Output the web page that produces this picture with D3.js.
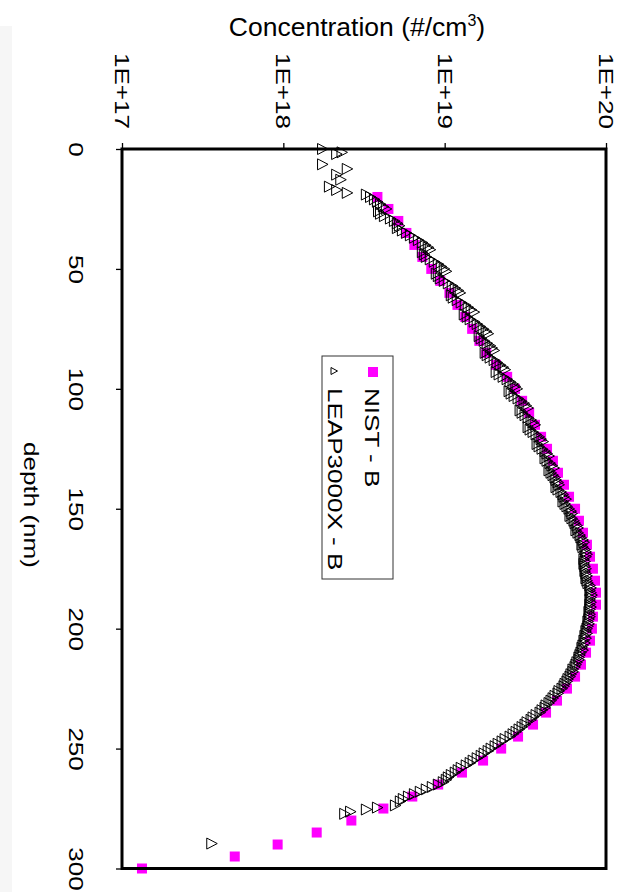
<!DOCTYPE html>
<html>
<head>
<meta charset="utf-8">
<script src="https://cdn.jsdelivr.net/npm/d3@7"></script>
<style>
  html, body { margin: 0; padding: 0; background: #fff; }
  svg { display: block; font-family: "Liberation Sans", Arial, sans-serif; }
</style>
</head>
<body>
<svg id="chart" width="629" height="892"></svg>
<script>
// Boron depth profile: NIST SIMS reference vs. LEAP3000X atom probe
const concTicks = [1e17, 1e18, 1e19, 1e20];
const concTickLabels = ["1E+17", "1E+18", "1E+19", "1E+20"];
const depthTicks = [0, 50, 100, 150, 200, 250, 300];
const seriesNames = ["NIST - B", "LEAP3000X - B"];

// NIST - B (depth nm, concentration #/cm3)
const nistDepth = [20, 25, 30, 35, 40, 45, 50, 55, 60, 65, 70, 75, 80, 85, 90, 95, 100,
  105, 110, 115, 120, 125, 130, 135, 140, 145, 150, 155, 160, 165, 170, 175, 180, 185,
  190, 195, 200, 205, 210, 215, 220, 225, 230, 235, 240, 245, 250, 255, 260, 265, 270,
  275, 280, 285, 290, 295, 300];
const nistConc = [3.83e18, 4.48e18, 5.16e18, 5.79e18, 6.49e18, 7.27e18, 8.26e18, 9.39e18,
  1.07e19, 1.20e19, 1.34e19, 1.48e19, 1.64e19, 1.81e19, 2.08e19, 2.44e19, 2.73e19,
  3.02e19, 3.34e19, 3.63e19, 3.96e19, 4.31e19, 4.69e19, 5.04e19, 5.49e19, 5.90e19,
  6.43e19, 6.80e19, 7.20e19, 7.62e19, 7.96e19, 8.30e19, 8.55e19, 8.67e19, 8.67e19,
  8.30e19, 8.18e19, 7.96e19, 7.52e19, 7.00e19, 6.43e19, 5.73e19, 4.97e19, 4.25e19,
  3.53e19, 2.85e19, 2.24e19, 1.73e19, 1.28e19, 9.12e18, 6.30e18, 4.17e18, 2.64e18,
  1.61e18, 9.22e17, 5.00e17, 1.33e17];

// LEAP3000X - B (depth nm, concentration #/cm3)
const leapDepth = [0.0, 1.4, 2.1, 6.4, 8.3, 10.7, 12.8, 15.7, 17.1, 18.3,
  19, 20, 21, 22, 23, 24, 25, 26, 27, 28, 29, 30, 31, 32, 33, 34, 35, 36, 37, 38,
  39, 40, 41, 42, 43, 44, 45, 46, 47, 48, 49, 50, 51, 52, 53, 54, 55, 56, 57, 58,
  59, 60, 61, 62, 63, 64, 65, 66, 67, 68, 69, 70, 71, 72, 73, 74, 75, 76, 77, 78,
  79, 80, 81, 82, 83, 84, 85, 86, 87, 88, 89, 90, 91, 92, 93, 94, 95, 96, 97, 98,
  99, 100, 101, 102, 103, 104, 105, 106, 107, 108, 109, 110, 111, 112, 113, 114, 115, 116, 117, 118,
  119, 120, 121, 122, 123, 124, 125, 126, 127, 128, 129, 130, 131, 132, 133, 134, 135, 136, 137, 138,
  139, 140, 141, 142, 143, 144, 145, 146, 147, 148, 149, 150, 151, 152, 153, 154, 155, 156, 157, 158,
  159, 160, 161, 162, 163, 164, 165, 166, 167, 168, 169, 170, 171, 172, 173, 174, 175, 176, 177, 178,
  179, 180, 181, 182, 183, 184, 185, 186, 187, 188, 189, 190, 191, 192, 193, 194, 195, 196, 197, 198,
  199, 200, 201, 202, 203, 204, 205, 206, 207, 208, 209, 210, 211, 212, 213, 214, 215, 216, 217, 218,
  219, 220, 221, 222, 223, 224, 225, 226, 227, 228, 229, 230, 231, 232, 233, 234, 235, 236, 237, 238,
  239, 240, 241, 242, 243, 244, 245, 246, 247, 248, 249, 250, 251, 252, 253, 254, 255, 256, 257, 258,
  259, 260, 261, 262, 263, 264, 265, 266, 267, 268, 269, 270, 271, 272,
  273.7, 274.6, 275.4, 276.3, 277.2, 289.6];
const leapConc = [1.75e18, 2.31e18, 2.14e18, 1.75e18, 2.49e18, 2.14e18, 2.27e18, 1.93e18, 2.14e18, 2.49e18,
  3.27e18, 3.47e18, 3.67e18, 3.83e18, 4.00e18, 4.17e18, 4.35e18, 3.89e18, 4.00e18, 4.23e18,
  4.61e18, 4.88e18, 5.09e18, 5.24e18, 5.09e18, 5.47e18, 5.79e18, 6.13e18, 6.49e18, 6.87e18,
  7.27e18, 7.58e18, 7.91e18, 8.14e18, 7.27e18, 7.48e18, 7.69e18, 8.14e18, 8.62e18, 9.13e18,
  9.53e18, 9.94e18, 1.023e19, 8.87e18, 9.13e18, 9.39e18, 9.94e18, 1.053e19, 1.114e19, 1.163e19,
  1.213e19, 1.248e19, 1.099e19, 1.130e19, 1.196e19, 1.266e19, 1.341e19, 1.399e19, 1.460e19, 1.524e19,
  1.322e19, 1.379e19, 1.439e19, 1.524e19, 1.590e19, 1.660e19, 1.732e19, 1.808e19, 1.860e19, 1.636e19,
  1.684e19, 1.757e19, 1.834e19, 1.914e19, 1.969e19, 2.026e19, 1.782e19, 1.834e19, 1.914e19, 2.026e19,
  2.114e19, 2.207e19, 2.303e19, 2.369e19, 2.085e19, 2.175e19, 2.303e19, 2.438e19, 2.544e19, 2.655e19,
  2.732e19, 2.811e19, 2.508e19, 2.581e19, 2.694e19, 2.851e19, 2.976e19, 3.106e19, 3.195e19, 3.289e19,
  2.934e19, 3.019e19, 3.150e19, 3.289e19, 3.432e19, 3.531e19, 3.633e19, 3.289e19, 3.384e19, 3.531e19,
  3.686e19, 3.847e19, 3.958e19, 4.072e19, 3.739e19, 3.847e19, 4.014e19, 4.189e19, 4.310e19, 4.434e19,
  4.189e19, 4.310e19, 4.498e19, 4.628e19, 4.762e19, 4.434e19, 4.562e19, 4.694e19, 4.830e19, 4.899e19,
  5.040e19, 5.113e19, 4.899e19, 5.040e19, 5.261e19, 5.413e19, 5.490e19, 5.649e19, 5.413e19, 5.569e19,
  5.730e19, 5.896e19, 6.066e19, 6.153e19, 5.981e19, 6.153e19, 6.330e19, 6.422e19, 6.606e19, 6.701e19,
  6.513e19, 6.701e19, 6.894e19, 6.993e19, 7.195e19, 7.299e19, 7.093e19, 7.195e19, 7.403e19, 7.510e19,
  7.617e19, 7.510e19, 7.299e19, 7.403e19, 7.299e19, 7.403e19, 7.510e19, 7.403e19, 7.510e19, 7.617e19,
  7.510e19, 7.617e19, 7.726e19, 7.949e19, 8.063e19, 7.949e19, 8.063e19, 8.180e19, 8.063e19, 7.949e19,
  8.063e19, 7.949e19, 8.063e19, 7.949e19, 7.837e19, 7.949e19, 7.949e19, 7.837e19, 7.726e19, 7.837e19,
  7.726e19, 7.617e19, 7.510e19, 7.617e19, 7.403e19, 7.510e19, 7.299e19, 7.403e19, 7.195e19, 7.093e19,
  7.195e19, 6.993e19, 6.894e19, 6.797e19, 6.797e19, 6.606e19, 6.513e19, 6.422e19, 6.241e19, 6.241e19,
  6.066e19, 5.981e19, 5.813e19, 5.730e19, 5.569e19, 5.490e19, 5.337e19, 5.113e19, 5.040e19, 4.830e19,
  4.694e19, 4.562e19, 4.434e19, 4.249e19, 4.189e19, 4.014e19, 3.902e19, 3.686e19, 3.531e19, 3.432e19,
  3.241e19, 3.150e19, 3.019e19, 2.892e19, 2.771e19, 2.655e19, 2.544e19, 2.369e19, 2.270e19, 2.145e19,
  2.055e19, 1.941e19, 1.860e19, 1.757e19, 1.684e19, 1.590e19, 1.502e19, 1.439e19, 1.360e19, 1.266e19,
  1.213e19, 1.163e19, 1.099e19, 1.053e19, 1.023e19, 9.80e18, 9.13e18, 8.38e18, 7.69e18, 7.06e18,
  6.49e18, 5.96e18, 5.54e18, 5.31e18,
  4.95e18, 3.83e18, 3.27e18, 2.61e18, 2.40e18, 3.60e17];

const svg = d3.select("#chart");
const plot = { left: 122, right: 606, top: 149, bottom: 868.5 };
const stretch = 1.24;           // text is drawn tall along its reading direction
const labelFont = 21;

const x = d3.scaleLog().domain([1e17, 1e20]).range([plot.left, plot.right]);
const y = d3.scaleLinear().domain([0, 300]).range([plot.top, plot.bottom]);

// faint grey margin along the left edge of the page
svg.append("rect")
  .attr("x", 0).attr("y", 26).attr("width", 12).attr("height", 866)
  .attr("fill", "#f6f6f6");

// Title
const title = svg.append("text")
  .attr("x", 357).attr("y", 36)
  .attr("text-anchor", "middle")
  .attr("font-size", 26.5)
  .attr("fill", "#000");
title.append("tspan").text("Concentration (#/cm");
title.append("tspan").attr("dy", -10).attr("font-size", 16).text("3");
title.append("tspan").attr("dy", 10).text(")");

// Concentration axis along the top
const topAxis = svg.append("g")
  .attr("transform", `translate(0,${plot.top})`)
  .call(d3.axisTop(x).tickValues(concTicks).tickSize(6).tickSizeOuter(0)
    .tickFormat((d, i) => concTickLabels[i]));
topAxis.select(".domain").remove();
topAxis.selectAll(".tick line").attr("stroke", "#000").attr("stroke-width", 1.3);
topAxis.selectAll(".tick text")
  .attr("y", 0).attr("dy", "0.35em")
  .attr("text-anchor", "middle")
  .attr("font-family", "'Liberation Sans', Arial, sans-serif")
  .attr("font-size", labelFont)
  .attr("fill", "#000")
  .attr("transform", `translate(0,${91 - plot.top}) rotate(90) scale(${stretch},1)`);

// Depth axis along the left
const leftAxis = svg.append("g")
  .attr("transform", `translate(${plot.left},0)`)
  .call(d3.axisLeft(y).tickValues(depthTicks).tickSize(6).tickSizeOuter(0));
leftAxis.select(".domain").remove();
leftAxis.selectAll(".tick line").attr("stroke", "#000").attr("stroke-width", 1.3);
leftAxis.selectAll(".tick text")
  .attr("x", 0).attr("dy", "0.35em")
  .attr("text-anchor", "middle")
  .attr("font-family", "'Liberation Sans', Arial, sans-serif")
  .attr("font-size", labelFont)
  .attr("fill", "#000")
  .attr("transform", `translate(${76 - plot.left},0) rotate(90) scale(${stretch},1)`);

svg.append("text")
  .attr("transform", `translate(31,505) rotate(90) scale(${stretch},1)`)
  .attr("dy", "0.35em")
  .attr("text-anchor", "middle")
  .attr("font-size", labelFont)
  .attr("fill", "#000")
  .text("depth (nm)");

// NIST squares
const nist = nistDepth.map((d, i) => ({ depth: d, conc: nistConc[i] }));
svg.append("g").selectAll("rect").data(nist).join("rect")
  .attr("x", d => x(d.conc) - 5)
  .attr("y", d => y(d.depth) - 5)
  .attr("width", 10).attr("height", 10)
  .attr("fill", "#ff00ff");

// LEAP open triangles (pointing along the concentration axis)
const tri = "M-5,-5.5L5.5,0L-5,5.5Z";
const leap = leapDepth.map((d, i) => ({ depth: d, conc: leapConc[i] }));
svg.append("g").selectAll("path").data(leap).join("path")
  .attr("transform", d => `translate(${x(d.conc)},${y(d.depth)})`)
  .attr("d", tri)
  .attr("fill", "none")
  .attr("stroke", "#000")
  .attr("stroke-width", 1);

// Plot frame
svg.append("rect")
  .attr("x", plot.left).attr("y", plot.top)
  .attr("width", plot.right - plot.left).attr("height", plot.bottom - plot.top)
  .attr("fill", "none").attr("stroke", "#000").attr("stroke-width", 3);

// Legend
const legend = svg.append("g");
legend.append("rect")
  .attr("x", 322).attr("y", 356).attr("width", 71).attr("height", 223)
  .attr("fill", "#fff").attr("stroke", "#333").attr("stroke-width", 1);
legend.append("rect")
  .attr("x", 368).attr("y", 367).attr("width", 10).attr("height", 10)
  .attr("fill", "#ff00ff");
legend.append("path")
  .attr("transform", "translate(334,371)")
  .attr("d", "M-3,-3.5L3.5,0L-3,3.5Z")
  .attr("fill", "none").attr("stroke", "#000").attr("stroke-width", 1);
[[seriesNames[0], 365], [seriesNames[1], 328]].forEach(([name, bx]) => {
  legend.append("text")
    .attr("transform", `translate(${bx},388) rotate(90) scale(${stretch},1)`)
    .attr("text-anchor", "start")
    .attr("font-size", labelFont)
    .attr("fill", "#000")
    .text(name);
});
</script>
</body>
</html>
